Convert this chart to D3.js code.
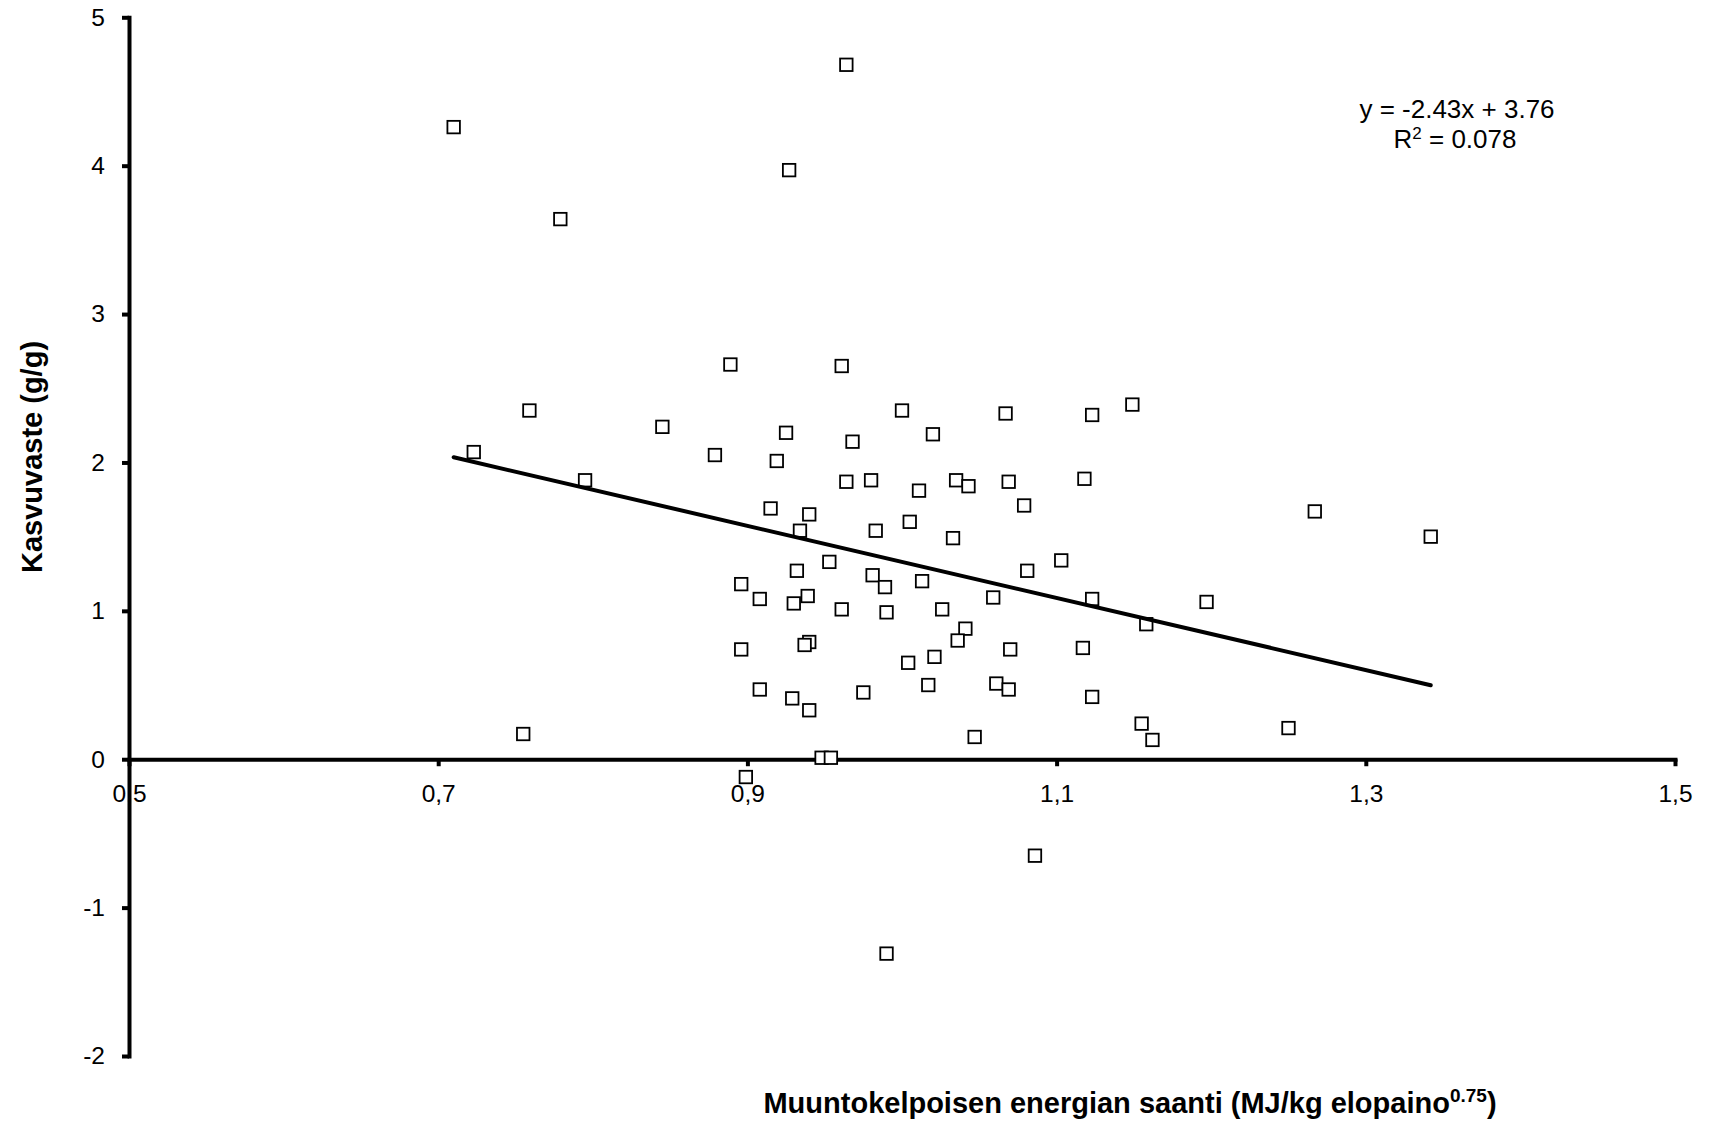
<!DOCTYPE html>
<html>
  <head>
    <meta charset="utf-8">
    <title>Kasvuvaste</title>
    <script src="https://d3js.org/d3.v7.min.js"></script>
    <style>
    body { margin:0; background:#fff; }
    svg { display:block; font-family: "Liberation Sans", Arial, sans-serif; }
    .axis path, .axis line { stroke:#000; stroke-width:4px; }
    .axis text { font-size:24.5px; fill:#000; }
    .title { font-size:29px; font-weight:bold; }
    .eq { font-size:26px; }
    </style>
  </head>
  <body>
    <script>

// energy intake (MJ/kg LW^0.75) and growth response (g/g)
var energy = [
  0.710, 0.964, 0.927, 0.779, 0.889, 0.961, 1.000, 0.759, 0.845, 0.925,
  0.968, 0.723, 0.879, 0.919, 0.795, 0.964, 0.980, 0.915, 0.940, 0.934,
  0.983, 0.953, 0.932, 0.981, 0.989, 0.896, 0.908, 0.930, 0.939, 0.961,
  0.990, 0.896, 0.940, 0.937, 0.908, 0.929, 0.940, 0.975, 0.755, 0.948,
  0.954, 0.899, 1.067, 1.123, 1.149, 1.020, 1.011, 1.035, 1.043, 1.069,
  1.118, 1.079, 1.005, 1.033, 1.267, 1.103, 1.081, 1.013, 1.059, 1.123,
  1.197, 1.026, 1.158, 1.041, 1.036, 1.070, 1.117, 1.021, 1.004, 1.017,
  1.061, 1.069, 1.123, 1.155, 1.162, 1.047, 1.250, 1.342, 1.086, 0.990
];
var growth = [
  4.26, 4.68, 3.97, 3.64, 2.66, 2.65, 2.35, 2.35, 2.24, 2.20,
  2.14, 2.07, 2.05, 2.01, 1.88, 1.87, 1.88, 1.69, 1.65, 1.54,
  1.54, 1.33, 1.27, 1.24, 1.16, 1.18, 1.08, 1.05, 1.10, 1.01,
  0.99, 0.74, 0.79, 0.77, 0.47, 0.41, 0.33, 0.45, 0.17, 0.01,
  0.01, -0.12, 2.33, 2.32, 2.39, 2.19, 1.81, 1.88, 1.84, 1.87,
  1.89, 1.71, 1.60, 1.49, 1.67, 1.34, 1.27, 1.20, 1.09, 1.08,
  1.06, 1.01, 0.91, 0.88, 0.80, 0.74, 0.75, 0.69, 0.65, 0.50,
  0.51, 0.47, 0.42, 0.24, 0.13, 0.15, 0.21, 1.50, -0.65, -1.31
];

var xTicks = [0.5, 0.7, 0.9, 1.1, 1.3, 1.5];
var yTicks = [-2, -1, 0, 1, 2, 3, 4, 5];

// linear trendline as printed on the chart
var slope = -2.43, intercept = 3.76, r2 = "0.078";

var width = 1714,
    height = 1130;

var svg = d3.select("body").append("svg")
    .attr("width", width)
    .attr("height", height);

var x = d3.scaleLinear().domain([0.5, 1.5]).range([129, 1675]);
var y = d3.scaleLinear().domain([-2, 5]).range([1056, 17.3]);

var comma = function(d){ return d3.format(".1f")(d).replace(".", ","); };

svg.append("g")
    .attr("class", "axis")
    .attr("transform", "translate(0," + y(0) + ")")
    .call(d3.axisBottom(x).tickValues(xTicks).tickFormat(comma).tickSize(7).tickSizeOuter(0).tickPadding(18));

svg.append("g")
    .attr("class", "axis")
    .attr("transform", "translate(" + x(0.5) + ",0)")
    .call(d3.axisLeft(y).tickValues(yTicks).tickFormat(function(d){ return String(d); }).tickSize(7).tickSizeOuter(0).tickPadding(17));

svg.selectAll(".axis .domain").attr("stroke-linecap", "square");

var pts = energy.map(function(e, i){ return {x: e, y: growth[i]}; });
var s = 12.5;

svg.selectAll("rect.pt")
    .data(pts)
  .enter().append("rect")
    .attr("class", "pt")
    .attr("x", function(d){ return x(d.x) - s / 2; })
    .attr("y", function(d){ return y(d.y) - s / 2; })
    .attr("width", s)
    .attr("height", s)
    .attr("fill", "#fff")
    .attr("stroke", "#000")
    .attr("stroke-width", 1.8);

var xr = d3.extent(energy);
svg.append("line")
    .attr("x1", x(xr[0])).attr("y1", y(slope * xr[0] + intercept))
    .attr("x2", x(xr[1])).attr("y2", y(slope * xr[1] + intercept))
    .attr("stroke", "#000")
    .attr("stroke-width", 4)
    .attr("stroke-linecap", "round");

// equation label
svg.append("text")
    .attr("class", "eq")
    .attr("x", 1457).attr("y", 118)
    .attr("text-anchor", "middle")
    .text("y = " + slope + "x + " + intercept);

var r = svg.append("text")
    .attr("class", "eq")
    .attr("x", 1455).attr("y", 148)
    .attr("text-anchor", "middle");
r.append("tspan").text("R");
r.append("tspan").attr("dy", -9).style("font-size", "17px").text("2");
r.append("tspan").attr("dy", 9).text(" = " + r2);

// axis titles
svg.append("text")
    .attr("class", "title")
    .attr("transform", "translate(42,457) rotate(-90)")
    .attr("text-anchor", "middle")
    .text("Kasvuvaste (g/g)");

var t = svg.append("text")
    .attr("class", "title")
    .attr("x", 1130).attr("y", 1113)
    .attr("text-anchor", "middle");
t.append("tspan").text("Muuntokelpoisen energian saanti (MJ/kg elopaino");
t.append("tspan").attr("dy", -11).style("font-size", "19px").text("0.75");
t.append("tspan").attr("dy", 11).text(")");

    </script>
  </body>
</html>
